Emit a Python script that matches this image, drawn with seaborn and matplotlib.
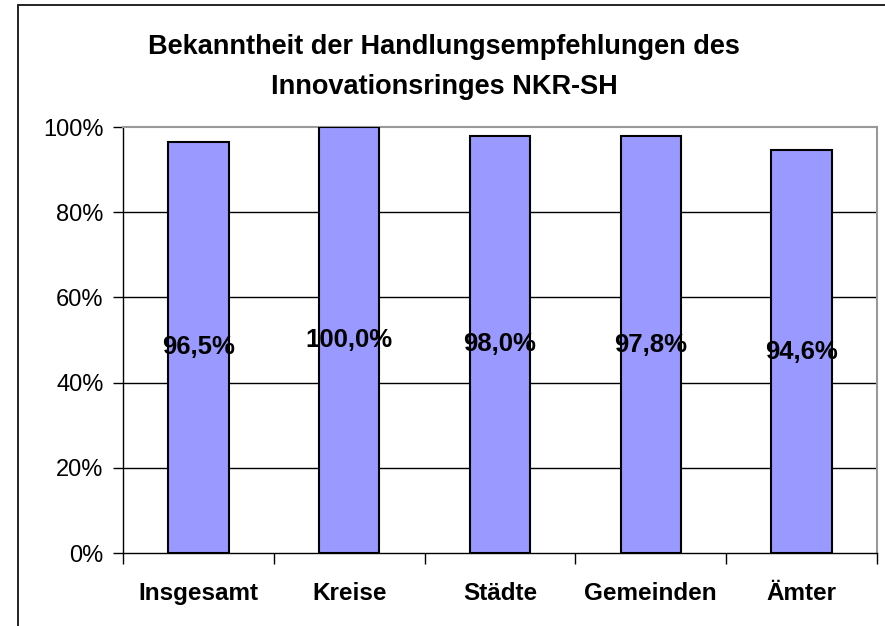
import matplotlib
matplotlib.use("Agg")
import matplotlib.pyplot as plt
import seaborn as sns
import pandas as pd
from matplotlib.patches import Rectangle
from matplotlib.ticker import FixedLocator

categories = ["Insgesamt", "Kreise", "Städte", "Gemeinden", "Ämter"]
values = [96.5, 100.0, 98.0, 97.8, 94.6]
value_labels = ["96,5%", "100,0%", "98,0%", "97,8%", "94,6%"]
y_ticks = [0, 20, 40, 60, 80, 100]
y_tick_labels = ["0%", "20%", "40%", "60%", "80%", "100%"]
title_lines = ["Bekanntheit der Handlungsempfehlungen des", "Innovationsringes NKR-SH"]

sns.set_style("white")
plt.rcParams["font.family"] = ["Liberation Sans", "DejaVu Sans"]
plt.rcParams["text.color"] = "black"
plt.rcParams["xtick.color"] = "black"
plt.rcParams["ytick.color"] = "black"

df = pd.DataFrame({"cat": categories, "val": values})

fig = plt.figure(figsize=(8.85, 6.26), dpi=100)
ax = fig.add_axes([123/885, 1-553/626, (877-123)/885, (553-127)/626])

# outer border
fig.patches.append(Rectangle((18/885, -0.05), 1.1, 1-5/626+0.05, transform=fig.transFigure,
                             fill=False, edgecolor="#222222", linewidth=1.4, zorder=0))

for t in [20, 40, 60, 80]:
    ax.axhline(t, color="black", linewidth=1.0, zorder=1)

sns.barplot(data=df, x="cat", y="val", color="#9999FF", saturation=1, width=0.40,
            edgecolor="black", linewidth=1.5, ax=ax, zorder=3)

for i, (v, lab) in enumerate(zip(values, value_labels)):
    ax.text(i, v/2, lab, ha="center", va="center", fontsize=18.5, fontweight="bold",
            color="black", zorder=4)

ax.set_xlim(-0.5, 4.5)
ax.set_ylim(0, 100)
ax.set_yticks(y_ticks)
ax.set_yticklabels(y_tick_labels, fontsize=17)
ax.set_xticks(range(len(categories)))
ax.set_xticklabels(categories, fontsize=17.5, fontweight="bold")
ax.xaxis.set_minor_locator(FixedLocator([-0.5, 0.5, 1.5, 2.5, 3.5, 4.5]))
ax.tick_params(axis="x", which="major", length=0, pad=21, labelcolor="black")
ax.tick_params(axis="x", which="minor", length=8, width=1, color="black", direction="out", bottom=True)
ax.tick_params(axis="y", length=7, width=1, color="black", direction="out", left=True, pad=7,
               labelcolor="black")
ax.set_xlabel("")
ax.set_ylabel("")

for s in ["left", "bottom"]:
    ax.spines[s].set_color("black")
    ax.spines[s].set_linewidth(1.0)
for s in ["top", "right"]:
    ax.spines[s].set_visible(True)
    ax.spines[s].set_color("#999999")
    ax.spines[s].set_linewidth(1.5)

fig.text(444/885, 1-47/626, title_lines[0], ha="center", va="center", fontsize=19.5,
         fontweight="bold", color="black")
fig.text(444/885, 1-87/626, title_lines[1], ha="center", va="center", fontsize=19.5,
         fontweight="bold", color="black")

fig.savefig("out.png", dpi=100)
